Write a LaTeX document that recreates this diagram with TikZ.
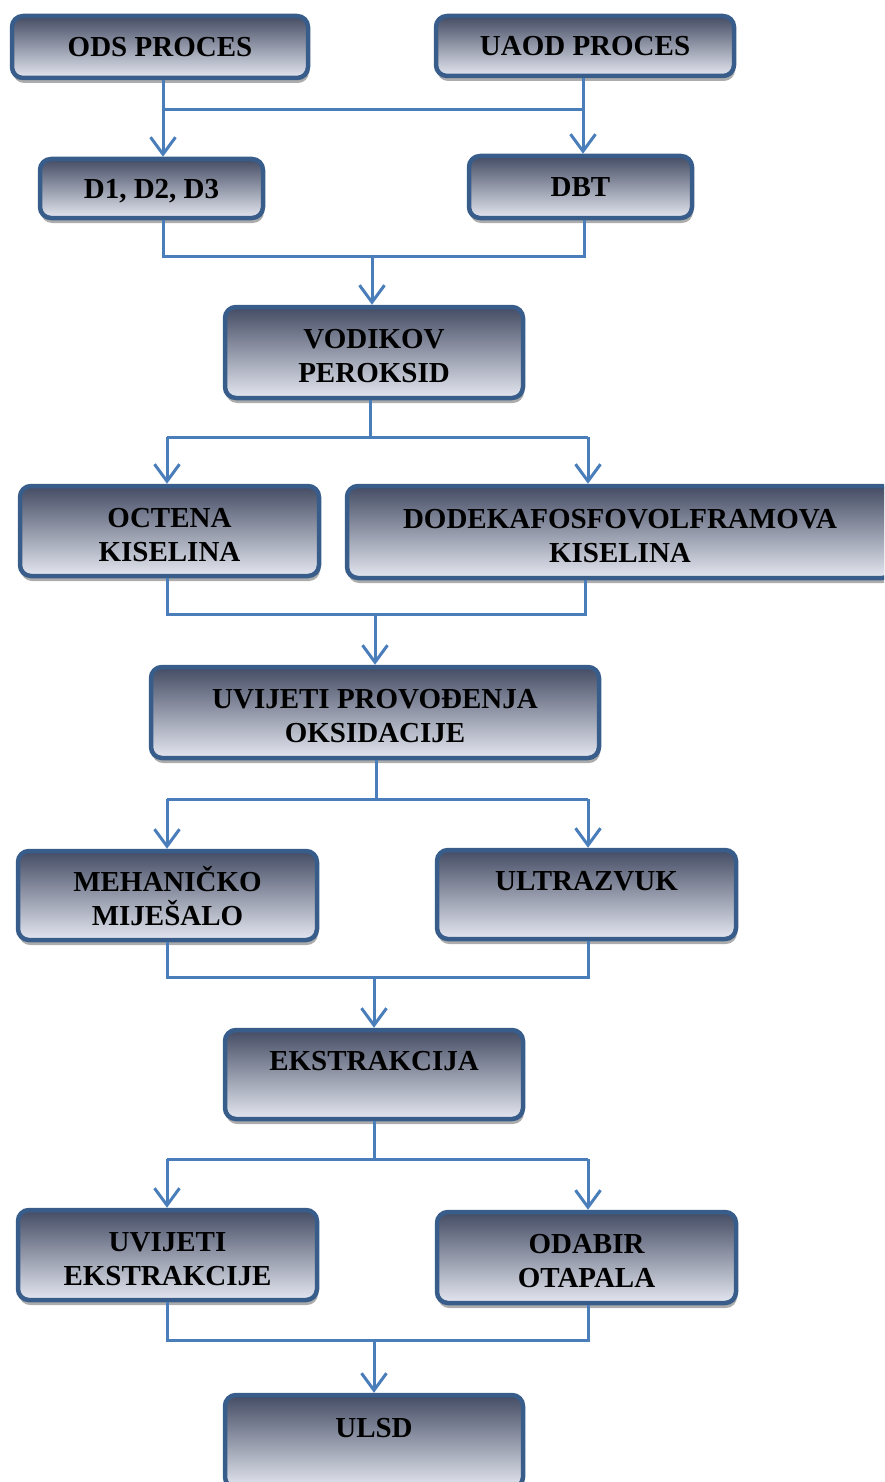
\documentclass[tikz,border=0pt]{standalone}
\usepackage{fontspec}
\setmainfont{Liberation Serif}
\usetikzlibrary{arrows.meta,shadows,calc}
\definecolor{boxline}{RGB}{56,93,138}
\definecolor{conn}{RGB}{74,126,187}
\definecolor{gtop}{RGB}{68,76,100}
\definecolor{gmid}{RGB}{148,152,164}
\definecolor{gbot}{RGB}{228,231,240}
\newcommand{\sttwo}{\rule{0pt}{32pt}}
\newcommand{\stone}{\rule{0pt}{25pt}}
\newcommand{\stbot}{\rule[-6pt]{0pt}{6pt}}
\tikzset{
  flowbox/.style={draw=boxline, line width=4.5pt, rounded corners=11pt,
    top color=gtop, middle color=gmid, bottom color=gbot,
    drop shadow={shadow xshift=1pt, shadow yshift=-5pt, fill=gray!65, opacity=1},
    align=center, inner sep=0pt,
    font=\fontsize{29}{34}\selectfont\bfseries},
  link/.style={draw=conn, line width=3pt},
  arr/.style={link, -{Straight Barb[length=17pt,width=25pt]}}
}
\begin{document}
\begin{tikzpicture}[x=1pt,y=-1pt]
\useasboundingbox (0,0) rectangle (884,1482);
\clip (0,0) rectangle (884,1482);
% boxes
\node[flowbox, minimum width=296pt, minimum height=62pt] (ods) at (160,47) {\stone ODS PROCES\stbot};
\node[flowbox, minimum width=298pt, minimum height=60pt] (uaod) at (585,46) {\stone UAOD PROCES\stbot};
\node[flowbox, minimum width=223pt, minimum height=59pt] (d) at (151.5,188.5) {\stone D1, D2, D3\stbot};
\node[flowbox, minimum width=223pt, minimum height=62pt] (dbt) at (580.5,187) {\stone DBT\stbot};
\node[flowbox, minimum width=298pt, minimum height=91pt] (vod) at (374,352.5) {\sttwo VODIKOV\\PEROKSID\stbot};
\node[flowbox, minimum width=299pt, minimum height=90pt] (oct) at (169.5,531) {\sttwo OCTENA\\KISELINA\stbot};
\node[flowbox, minimum width=546pt, minimum height=92pt] (dod) at (620,532) {\sttwo DODEKAFOSFOVOLFRAMOVA\\KISELINA\stbot};
\node[flowbox, minimum width=448pt, minimum height=91pt] (uvo) at (375,712.5) {\sttwo UVIJETI PROVOĐENJA\\OKSIDACIJE\stbot};
\node[flowbox, minimum width=299pt, minimum height=89pt] (meh) at (167.5,895.5) {\sttwo MEHANIČKO\\MIJEŠALO\stbot};
\node[flowbox, minimum width=299pt, minimum height=89pt] (ult) at (586.5,894.5) {\sttwo ULTRAZVUK\\\stbot};
\node[flowbox, minimum width=298pt, minimum height=89pt] (eks) at (374,1074.5) {\sttwo EKSTRAKCIJA\\\stbot};
\node[flowbox, minimum width=299pt, minimum height=90pt] (uve) at (167.5,1255) {\sttwo UVIJETI\\EKSTRAKCIJE\stbot};
\node[flowbox, minimum width=299pt, minimum height=91pt] (oda) at (586.5,1257.5) {\sttwo ODABIR\\OTAPALA\stbot};
\node[flowbox, minimum width=298pt, minimum height=93pt] (ulsd) at (374,1441.5) {\sttwo ULSD\\\stbot};
% connector anchor points
\coordinate (o1) at ($(ods.south)+(3,0)$);
\coordinate (u1) at ($(uaod.south)+(-2,0)$);
\coordinate (d2) at ($(d.south)+(12,0)$);
\coordinate (b2) at ($(dbt.south)+(4,0)$);
\coordinate (v3) at ($(vod.south)+(-4,0)$);
\coordinate (c4) at ($(oct.south)+(-2,0)$);
\coordinate (k4) at ($(dod.south)+(-35,0)$);
\coordinate (u5) at ($(uvo.south)+(1,0)$);
\coordinate (t6) at ($(ult.south)+(1.5,0)$);
\coordinate (a8) at ($(oda.south)+(1.5,0)$);
% junction levels
\coordinate (j1) at (374,110);
\coordinate (j2) at (372,256);
\coordinate (j3) at (370,437);
\coordinate (j4) at (375,614);
\coordinate (j5) at (376,799);
\coordinate (j6) at (374,977);
\coordinate (j7) at (374,1159);
\coordinate (j8) at (374,1340);
% level 1
\draw[arr] (o1) -- (o1 |- d.north);
\draw[arr] (u1) -- (u1 |- dbt.north);
\draw[link] (o1 |- j1) -- (u1 |- j1);
% level 2
\draw[link] (d2) |- (j2) -| (b2);
\draw[arr] (j2) -- (j2 |- vod.north);
% level 3
\draw[link] (v3) -- (v3 |- j3);
\draw[arr] (167,437) -- (167,437 |- oct.north);
\draw[arr] (588,437) -- (588,437 |- dod.north);
\draw[link] (167,437) -- (588,437);
% level 4
\draw[link] (c4) |- (j4) -| (k4);
\draw[arr] (j4) -- (j4 |- uvo.north);
% level 5
\draw[link] (u5) -- (u5 |- j5);
\draw[arr] (167,799) -- (167,799 |- meh.north);
\draw[arr] (588,799) -- (588,799 |- ult.north);
\draw[link] (167,799) -- (588,799);
% level 6
\draw[link] (meh.south) |- (j6) -| (t6);
\draw[arr] (j6) -- (j6 |- eks.north);
% level 7
\draw[link] (eks.south) -- (eks.south |- j7);
\draw[arr] (167,1159) -- (167,1159 |- uve.north);
\draw[arr] (588,1159) -- (588,1159 |- oda.north);
\draw[link] (167,1159) -- (588,1159);
% level 8
\draw[link] (uve.south) |- (j8) -| (a8);
\draw[arr] (j8) -- (j8 |- ulsd.north);
\end{tikzpicture}
\end{document}
